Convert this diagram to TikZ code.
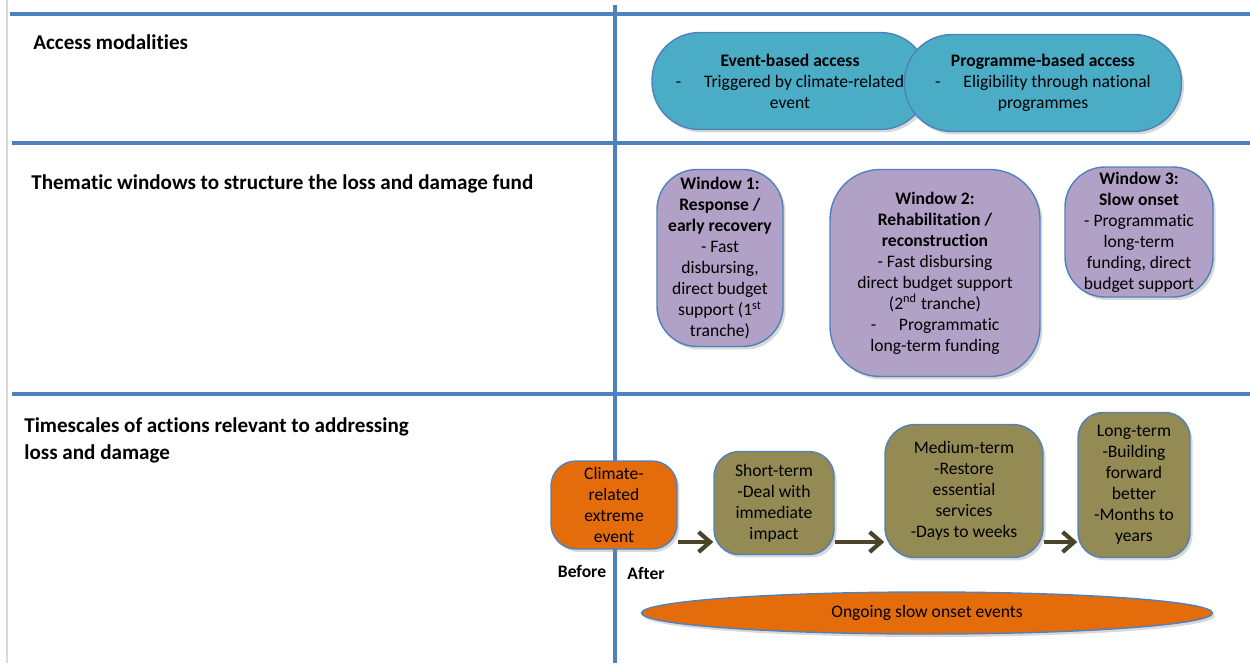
\documentclass[tikz,border=0pt]{standalone}
\usepackage{fontspec}
\setmainfont{Carlito}[Ligatures=NoCommon]
\usepackage{xcolor}
\usepackage{tikz}
\usetikzlibrary{shapes.geometric}
\usetikzlibrary{arrows.meta,shadows}

\definecolor{gridblue}{HTML}{4F81BD}
\definecolor{accessteal}{HTML}{4BACC6}
\definecolor{windowlilac}{HTML}{B2A1C7}
\definecolor{phaseolive}{HTML}{948A54}
\definecolor{eventorange}{HTML}{E46C0A}
\definecolor{flowbrown}{HTML}{4A452A}

\tikzset{
  every picture/.style = {
    font=\fontsize{10}{11.95}\selectfont
  },
  band/.style={
    draw=gridblue,
    line width=2.2pt
  },
  heading/.style={
    anchor=west,
    align=left,
    inner sep=0,
    font=\fontsize{12}{15.4}\selectfont\bfseries
  },
  shaded/.style={
    drop shadow={shadow xshift=0.5mm, shadow yshift=-0.6mm, opacity=0.3}
  },
  access/.style={
    draw=gridblue,
    thick,
    fill=accessteal,
    rounded corners=0.95cm,
    align=center,
    inner sep=0,
    shaded
  },
  window/.style={
    draw=gridblue,
    thick,
    fill=windowlilac,
    align=center,
    inner sep=0,
    shaded
  },
  phase/.style={
    draw=gridblue,
    thick,
    fill=phaseolive,
    align=center,
    inner sep=0,
    shaded
  },
  flow/.style={
    draw=flowbrown,
    line width=2.4pt,
    -{Straight Barb[length=2.3mm,width=4mm]}
  },
  tag/.style={
    inner sep=0,
    font=\fontsize{10}{12}\selectfont\bfseries
  }
}

\begin{document}
\begin{tikzpicture}[x=0.02cm,y=-0.02cm]
  \useasboundingbox (0,0) rectangle (1250,663);
  % grid of the table
  \draw[draw=black!15, line width=0.8pt] (7,0) -- (7,663);
  \draw[band] (10,14) -- (1250,14);
  \draw[band] (12,143) -- (1250,143);
  \draw[band] (12,394) -- (1250,394);
  \draw[band] (615,5) -- (615,663);

  \node[heading] (accesshead) at (33,42) {Access modalities};
  \node[heading] (windowhead) at (31,184) {Thematic windows to structure the loss and damage fund};
  \node[heading] (timehead) at (24,440.5) {Timescales of actions relevant to addressing\\loss and damage};

  % access modalities
  \node[access, minimum width=5.52cm, minimum height=1.94cm] (eventacc) at (790,81)
    {\textbf{Event-based access}\\-\hspace{1.3em}Triggered by climate-related\\event};
  \node[access, minimum width=5.54cm, minimum height=1.94cm] (progacc) at (1043,83)
    {\textbf{Programme-based access}\\-\hspace{1.3em}Eligibility through national\\programmes};

  % windows
  \node[window, minimum width=2.52cm, minimum height=3.54cm, rounded corners=0.8cm] (win1) at (720,258)
    {\textbf{Window 1:}\\\textbf{Response /}\\\textbf{early recovery}\\- Fast\\disbursing,\\direct budget\\support (1\textsuperscript{st}\\tranche)};
  \node[window, minimum width=4.2cm, minimum height=4.14cm, rounded corners=1cm] (win2) at (935,273)
    {\textbf{Window 2:}\\\textbf{Rehabilitation /}\\\textbf{reconstruction}\\- Fast disbursing\\direct budget support\\(2\textsuperscript{nd} tranche)\\-\hspace{1.3em}Programmatic\\long-term funding};
  \node[window, minimum width=2.96cm, minimum height=2.6cm, rounded corners=0.8cm] (win3) at (1139,232)
    {\textbf{Window 3:}\\\textbf{Slow onset}\\- Programmatic\\long-term\\funding, direct\\budget support};

  % timescales
  \node[phase, fill=eventorange, minimum width=2.52cm, minimum height=1.76cm, rounded corners=0.5cm] (climate) at (614,505)
    {Climate-\\related\\extreme\\event};
  \node[phase, minimum width=2.4cm, minimum height=2.06cm, rounded corners=0.5cm] (short) at (774,503)
    {Short-term\\-Deal with\\immediate\\impact};
  \node[phase, minimum width=3.16cm, minimum height=2.66cm, rounded corners=0.6cm] (medium) at (964,491)
    {Medium-term\\-Restore\\essential\\services\\-Days to weeks};
  \node[phase, minimum width=2.24cm, minimum height=2.9cm, rounded corners=0.5cm] (long) at (1134,485)
    {Long-term\\-Building\\forward\\better\\-Months to\\years};

  \coordinate (flowrow) at (0,542);
  \draw[flow] (climate.east |- flowrow) -- (short.west |- flowrow);
  \draw[flow] (short.east |- flowrow) -- (medium.west |- flowrow);
  \draw[flow] (medium.east |- flowrow) -- (long.west |- flowrow);

  \node[tag] (before) at (582,571) {Before};
  \node[tag] (after) at (646,573) {After};

  \node[phase, ellipse, fill=eventorange, minimum width=11.42cm, minimum height=0.84cm] (ongoing) at (927,613)
    {Ongoing slow onset events};
\end{tikzpicture}
\end{document}
